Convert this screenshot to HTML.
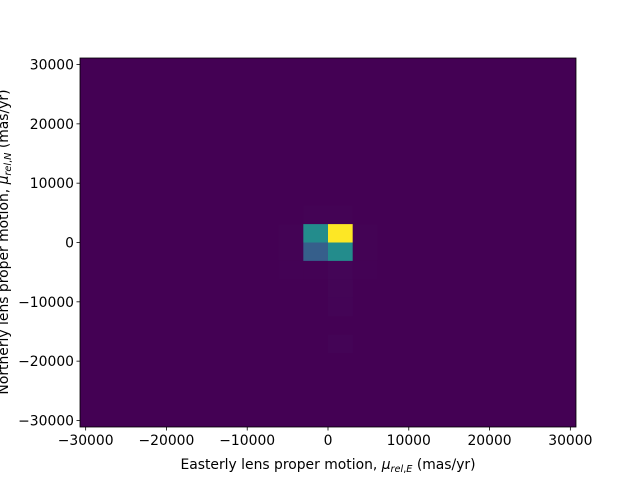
<!DOCTYPE html>
<html><head><meta charset="utf-8"><style>
body{margin:0;background:#fff;}
svg text{font-family:"DejaVu Sans","Liberation Sans",sans-serif;font-size:13.9px;fill:#000;}
</style></head><body>
<svg id="chart" width="640" height="480" style="position:absolute;left:0;top:0">
<rect x="0" y="0" width="640" height="480" fill="#fff"/>
<g id="cells"></g><g id="axes"></g>
<text x="328" y="469" text-anchor="middle">Easterly lens proper motion, <tspan font-style="italic">μ</tspan><tspan font-size="9.7" dy="3"><tspan font-style="italic">rel</tspan>,<tspan font-style="italic">E</tspan></tspan><tspan dy="-3"> (mas/yr)</tspan></text>
<text transform="translate(8,242) rotate(-90)" x="0" y="0" text-anchor="middle">Northerly lens proper motion, <tspan font-style="italic">μ</tspan><tspan font-size="9.7" dy="3"><tspan font-style="italic">rel</tspan>,<tspan font-style="italic">N</tspan></tspan><tspan dy="-3"> (mas/yr)</tspan></text>
</svg>
<script>
const xBinCount = 20;
const yBinCount = 20;
const xMin = -30700, xMax = 30700, yMin = -31100, yMax = 31100;
// [xBinIndex, yBinIndex, count]
const cellX = [9, 10, 9, 10, 10, 10, 10, 10, 8, 11, 9, 10, 8, 11, 8, 11, 9];
const cellY = [10, 10, 9, 9, 8, 7, 6, 4, 10, 10, 11, 11, 9, 9, 8, 8, 8];
const cellCount = [48, 100, 30, 48, 1.3, 1.1, 0.9, 0.9, 0.5, 0.5, 0.5, 0.5, 0.5, 0.5, 0.4, 0.4, 0.4];
const xTicks = [-30000, -20000, -10000, 0, 10000, 20000, 30000];
const yTicks = [-30000, -20000, -10000, 0, 10000, 20000, 30000];
const xTickLabels = ["\u221230000","\u221220000","\u221210000","0","10000","20000","30000"];
const yTickLabels = ["\u221230000","\u221220000","\u221210000","0","10000","20000","30000"];

const L=80,R=576,T=58,B=427;
const sx=v=>L+(v-xMin)/(xMax-xMin)*(R-L);
const sy=v=>B-(v-yMin)/(yMax-yMin)*(B-T);
const vir=[[68,1,84],[59,82,139],[33,145,140],[94,201,98],[253,231,37]];
function color(t){t=Math.max(0,Math.min(1,t));const p=t*4,i=Math.min(3,Math.floor(p)),f=p-i;
 const c=vir[i].map((a,k)=>Math.round(a+(vir[i+1][k]-a)*f));return `rgb(${c})`;}
const NS="http://www.w3.org/2000/svg";
const cells=document.getElementById('cells'),axes=document.getElementById('axes');
function mk(tag,attrs,parent){const e=document.createElementNS(NS,tag);for(const k in attrs)e.setAttribute(k,attrs[k]);parent.appendChild(e);return e;}
const bg=mk('rect',{x:L,y:T,width:R-L,height:B-T,fill:color(0)},cells);


const maxC=Math.max(...cellCount);
const bwx=(xMax-xMin)/xBinCount,bwy=(yMax-yMin)/yBinCount;
for(let i=0;i<cellX.length;i++){
 const x0=sx(xMin+cellX[i]*bwx),x1=sx(xMin+(cellX[i]+1)*bwx);
 const y1=sy(yMin+cellY[i]*bwy),y0=sy(yMin+(cellY[i]+1)*bwy);
 const r=mk('rect',{x:x0,y:y0,width:x1-x0,height:y1-y0,fill:color(cellCount[i]/maxC)},cells);
 
 
}
const fr=mk('rect',{x:L,y:T,width:R-L,height:B-T,fill:'none',stroke:'#000','stroke-width':0.8},axes);


xTicks.forEach((v,i)=>{const x=sx(v);
 mk('line',{x1:x,x2:x,y1:B,y2:B+3.5,stroke:'#000','stroke-width':0.8},axes);
 const t=mk('text',{x:x,y:B+18,'text-anchor':'middle'},axes);t.textContent=xTickLabels[i];
 
 });
yTicks.forEach((v,i)=>{const y=sy(v);
 mk('line',{x1:L,x2:L-3.5,y1:y,y2:y,stroke:'#000','stroke-width':0.8},axes);
 const t=mk('text',{x:L-6,y:y+5,'text-anchor':'end'},axes);t.textContent=yTickLabels[i];
 
 });
</script>
</body></html>
